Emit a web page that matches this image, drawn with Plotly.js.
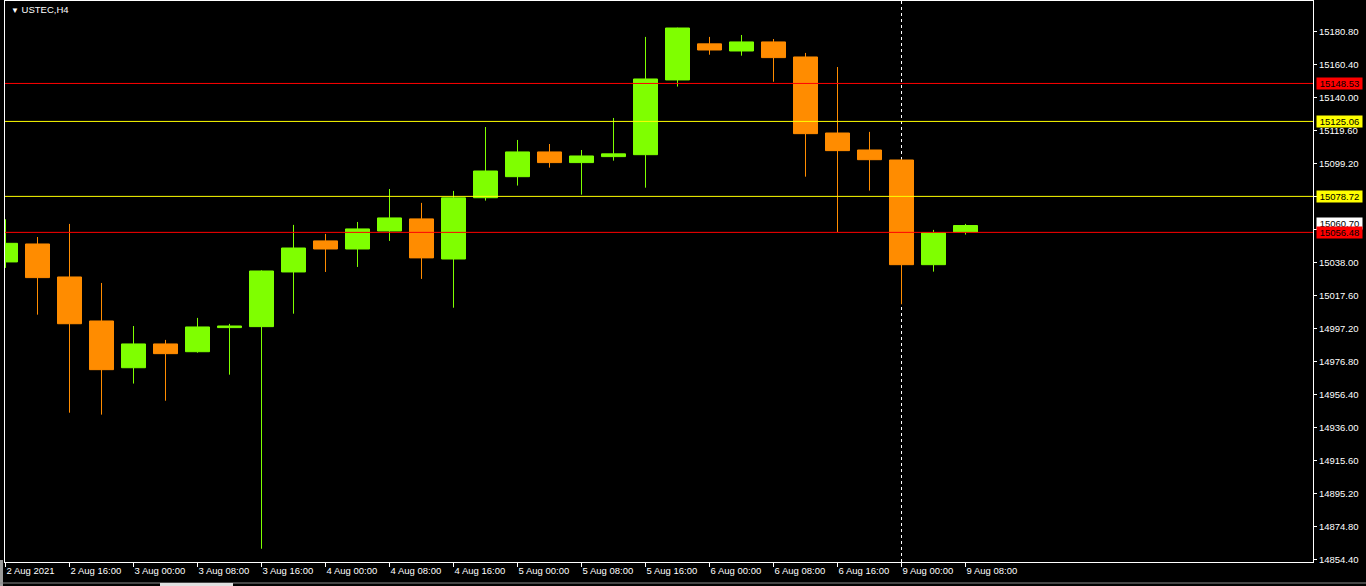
<!DOCTYPE html>
<html>
<head>
<meta charset="utf-8">
<script src="https://cdn.plot.ly/plotly-3.0.1.min.js"></script>
<style>
html,body{margin:0;padding:0;background:#000;}
#chart{width:1366px;height:586px;}
</style>
</head>
<body>
<div id="chart"></div>
<script>
// H4 bar times
const times = ["2 Aug 08:00","2 Aug 12:00","2 Aug 16:00","2 Aug 20:00",
  "3 Aug 00:00","3 Aug 04:00","3 Aug 08:00","3 Aug 12:00","3 Aug 16:00","3 Aug 20:00",
  "4 Aug 00:00","4 Aug 04:00","4 Aug 08:00","4 Aug 12:00","4 Aug 16:00","4 Aug 20:00",
  "5 Aug 00:00","5 Aug 04:00","5 Aug 08:00","5 Aug 12:00","5 Aug 16:00","5 Aug 20:00",
  "6 Aug 00:00","6 Aug 04:00","6 Aug 08:00","6 Aug 12:00","6 Aug 16:00","6 Aug 20:00",
  "9 Aug 00:00","9 Aug 04:00","9 Aug 08:00"];
const opens  = [15038.2,15049.3,15028.9,15001.7,14972.8,14987.5,14982.7,14997.6,14998.2,15032.0,
  15051.2,15046.2,15057.3,15064.8,15040.0,15077.9,15090.9,15106.2,15099.6,15103.3,
  15104.5,15150.7,15173.0,15168.6,15174.2,15164.9,15117.9,15107.4,15101.2,15036.5,15056.7];
const highs  = [15064.6,15053.6,15061.7,15025.2,14998.6,14990.0,15003.6,14999.9,15033.0,15061.1,
  15055.5,15062.9,15083.3,15074.7,15082.1,15121.6,15113.6,15111.1,15107.4,15127.2,
  15177.3,15183.0,15177.3,15178.5,15176.0,15167.4,15158.7,15118.6,15101.5,15058.0,15061.7];
const lows   = [15034.5,15005.6,14945.0,14943.8,14963.0,14952.4,14982.1,14968.5,14860.9,15006.2,
  15032.0,15035.1,15051.2,15027.7,15009.9,15076.1,15085.4,15096.5,15079.8,15100.8,
  15084.1,15146.6,15166.3,15165.7,15149.6,15090.9,15056.7,15082.3,15012.0,15032.2,15055.1];
const closes = [15049.7,15028.5,15000.0,14971.6,14987.5,14981.5,14998.0,14998.6,15032.6,15046.8,
  15046.2,15058.6,15065.4,15040.7,15077.8,15094.4,15106.2,15099.6,15103.7,15105.0,
  15151.3,15182.8,15169.2,15174.2,15164.5,15117.5,15107.0,15101.4,15036.5,15056.3,15060.7];

// x-axis tick labels (every second bar)
const tickTimes = ["2 Aug 08:00","2 Aug 16:00","3 Aug 00:00","3 Aug 08:00","3 Aug 16:00",
  "4 Aug 00:00","4 Aug 08:00","4 Aug 16:00","5 Aug 00:00","5 Aug 08:00","5 Aug 16:00",
  "6 Aug 00:00","6 Aug 08:00","6 Aug 16:00","9 Aug 00:00","9 Aug 08:00"];
const tickLabels = ["2 Aug 2021","2 Aug 16:00","3 Aug 00:00","3 Aug 08:00","3 Aug 16:00",
  "4 Aug 00:00","4 Aug 08:00","4 Aug 16:00","5 Aug 00:00","5 Aug 08:00","5 Aug 16:00",
  "6 Aug 00:00","6 Aug 08:00","6 Aug 16:00","9 Aug 00:00","9 Aug 08:00"];

// horizontal levels
const redLevels = [15148.53, 15056.48];
const yellowLevels = [15125.06, 15078.72];
const currentPrice = 15060.70;
const markerTime = "9 Aug 00:00";

const GREEN = "#7fff00", ORANGE = "#ff8c00";
const FONT = "Liberation Sans, Arial, sans-serif";
const FS = 9.5;

const trace = {
  type: "candlestick",
  x: times, open: opens, high: highs, low: lows, close: closes,
  increasing: {line: {color: GREEN, width: 1}, fillcolor: GREEN},
  decreasing: {line: {color: ORANGE, width: 1}, fillcolor: ORANGE},
  whiskerwidth: 0,
  hoverinfo: "skip",
  showlegend: false
};

const shapes = [];
shapes.push({type: "line", xref: "x", yref: "paper", x0: markerTime, x1: markerTime, y0: 0, y1: 1,
  layer: "below", line: {color: "#ffffff", width: 1, dash: "3px,3px"}});
redLevels.forEach(v => shapes.push({type: "line", xref: "paper", yref: "y", x0: 0, x1: 1, y0: v, y1: v,
  line: {color: "#ff0000", width: 1}}));
yellowLevels.forEach(v => shapes.push({type: "line", xref: "paper", yref: "y", x0: 0, x1: 1, y0: v, y1: v,
  line: {color: "#ffff00", width: 1}}));
// window chrome: left strip and bottom lines
shapes.push({type: "rect", xref: "paper", yref: "paper", x0: -5/1308, x1: -2/1308, y0: -25/561, y1: 2/561,
  fillcolor: "#9a9a9a", line: {width: 0}});
shapes.push({type: "line", xref: "paper", yref: "paper", x0: -5/1308, x1: 1366/1308, y0: -21/561, y1: -21/561,
  line: {color: "#8a8a8a", width: 1}});
shapes.push({type: "rect", xref: "paper", yref: "paper", x0: 155/1308, x1: 228/1308, y0: -25/561, y1: -21/561,
  fillcolor: "#e0e0e0", line: {width: 0}});

function levelBox(v, bg, txt) {
  return {xref: "paper", yref: "y", x: 1, y: v, xanchor: "left", yanchor: "middle", xshift: 3,
    text: txt, showarrow: false, bgcolor: bg, width: 45, height: 11, borderpad: 0, align: "center",
    font: {family: FONT, size: FS, color: "#000000"}};
}
const annotations = [
  {xref: "paper", yref: "paper", x: 4/1308, y: 1, xanchor: "left", yanchor: "top", yshift: -1,
   text: "<span style=\"font-size:8px\">▼</span> USTEC,H4", showarrow: false,
   font: {family: FONT, size: FS, color: "#ffffff"}},
  levelBox(redLevels[0], "#ff0000", redLevels[0].toFixed(2)),
  levelBox(yellowLevels[0], "#ffff00", yellowLevels[0].toFixed(2)),
  levelBox(yellowLevels[1], "#ffff00", yellowLevels[1].toFixed(2)),
  levelBox(currentPrice + 1.5, "#ffffff", currentPrice.toFixed(2)),
  levelBox(redLevels[1], "#ff0000", redLevels[1].toFixed(2))
];

const layout = {
  width: 1366, height: 586,
  paper_bgcolor: "#000000", plot_bgcolor: "#000000",
  margin: {l: 5, r: 53, t: 1, b: 24, pad: 0},
  showlegend: false,
  font: {family: FONT, size: FS, color: "#ffffff"},
  xaxis: {
    type: "category", range: [-0.5/32, 40.875 - 0.5/32],
    rangeslider: {visible: false},
    showgrid: false, zeroline: false,
    showline: true, mirror: true, linecolor: "#ffffff", linewidth: 1,
    ticks: "outside", ticklen: 4, tickcolor: "#ffffff", tickwidth: 1,
    tickmode: "array", tickvals: tickTimes, ticktext: tickLabels,
    ticklabelposition: "outside right",
    tickfont: {family: FONT, size: FS, color: "#ffffff"},
    fixedrange: true
  },
  yaxis: {
    side: "right", range: [14852.7, 15199.5],
    showgrid: false, zeroline: false,
    showline: true, mirror: true, linecolor: "#ffffff", linewidth: 1,
    ticks: "outside", ticklen: 3, tickcolor: "#ffffff", tickwidth: 1,
    tick0: 14854.4, dtick: 20.4, tickformat: ".2f",
    tickfont: {family: FONT, size: FS, color: "#ffffff"},
    fixedrange: true
  },
  boxgap: 0.25, boxgroupgap: 0,
  shapes: shapes,
  annotations: annotations,
  hovermode: false
};

Plotly.newPlot("chart", [trace], layout, {displayModeBar: false, staticPlot: true});
</script>
</body>
</html>
